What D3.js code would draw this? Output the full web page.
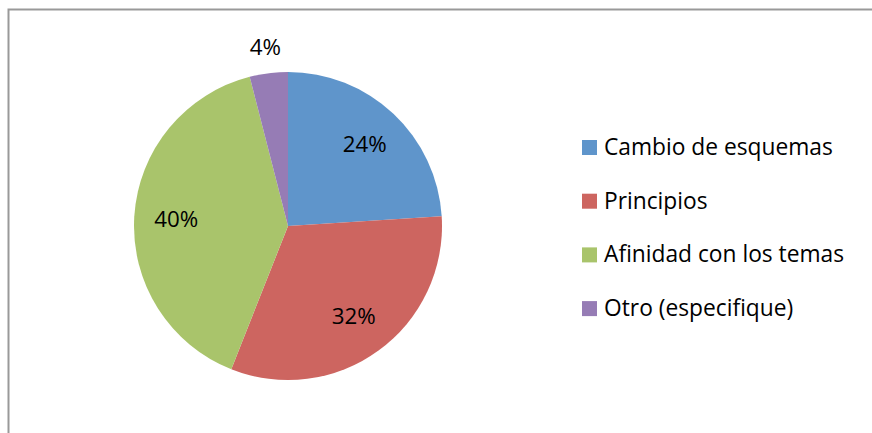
<!DOCTYPE html>
<html>
<head>
<meta charset="utf-8">
<script src="https://cdn.jsdelivr.net/npm/d3@7"></script>
<style>
  body { margin: 0; background: #fff; }
  svg { display: block; }
  text { font-family: "Open Sans", Lato, sans-serif; fill: #000; }
</style>
</head>
<body>
<div id="chart"></div>
<script>
const categories = ["Cambio de esquemas", "Principios", "Afinidad con los temas", "Otro (especifique)"];
const values = [24, 32, 40, 4];
const labels = ["24%", "32%", "40%", "4%"];
const colors = ["#5f95cb", "#cd6560", "#a9c46b", "#967cb5"];

const width = 872;
const height = 433;

const svg = d3.select("#chart")
  .append("svg")
  .attr("width", width)
  .attr("height", height);

// chart frame (runs off the right and bottom edges)
svg.append("rect")
  .attr("x", 8.5)
  .attr("y", 9.5)
  .attr("width", 900)
  .attr("height", 450)
  .attr("fill", "#fff")
  .attr("stroke", "#999")
  .attr("stroke-width", 2);

const cx = 288, cy = 226, radius = 154;

const pie = d3.pie().sort(null).value(d => d.value);
const arcs = pie(categories.map((c, i) => ({ name: c, value: values[i], label: labels[i] })));

const color = d3.scaleOrdinal().domain(categories).range(colors);

const arc = d3.arc().innerRadius(0).outerRadius(radius);
const labelArc = d3.arc().innerRadius(112).outerRadius(112);
const outerArc = d3.arc().innerRadius(180).outerRadius(180);

const g = svg.append("g").attr("transform", `translate(${cx},${cy})`);

g.selectAll("path")
  .data(arcs)
  .enter()
  .append("path")
  .attr("d", arc)
  .attr("fill", d => color(d.data.name));

const pctText = g.selectAll("text")
  .data(arcs)
  .enter()
  .append("text")
  .attr("transform", d => {
    const p = (d.data.value < 10 ? outerArc : labelArc).centroid(d);
    return `translate(${p[0]},${p[1]})`;
  })
  .attr("text-anchor", "middle")
  .attr("dy", "0.35em")
  .style("font-size", "20px")
  .text(d => d.data.label);

// match label width seen in the picture (~45px for "24%")
const w0 = pctText.nodes()[0].getComputedTextLength();
pctText.style("font-size", (20 * 44 / w0) + "px");

const legend = svg.append("g")
  .attr("transform", "translate(582,147)");

const item = legend.selectAll("g")
  .data(categories)
  .enter()
  .append("g")
  .attr("transform", (d, i) => `translate(0,${i * 53.7})`);

item.append("rect")
  .attr("x", 0)
  .attr("y", -7)
  .attr("width", 15)
  .attr("height", 15)
  .attr("fill", d => color(d));

const legText = item.append("text")
  .attr("x", 22)
  .attr("y", 0)
  .attr("dy", "0.35em")
  .style("font-size", "20px")
  .text(d => d);

const w1 = legText.nodes()[0].getComputedTextLength();
legText.style("font-size", (20 * 229 / w1) + "px");
</script>
</body>
</html>
